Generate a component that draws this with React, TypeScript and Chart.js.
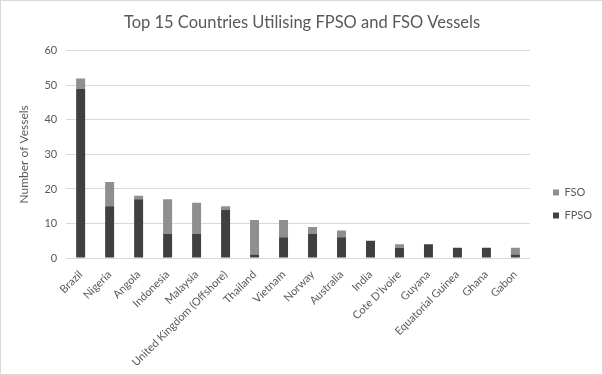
import React, { useEffect, useRef } from "react";
import { Chart, registerables } from "chart.js";

Chart.register(...registerables);

const countries = [
  "Brazil",
  "Nigeria",
  "Angola",
  "Indonesia",
  "Malaysia",
  "United Kingdom (Offshore)",
  "Thailand",
  "Vietnam",
  "Norway",
  "Australia",
  "India",
  "Cote D'Ivoire",
  "Guyana",
  "Equatorial Guinea",
  "Ghana",
  "Gabon",
];
const fpsoValues = [49, 15, 17, 7, 7, 14, 1, 6, 7, 6, 5, 3, 4, 3, 3, 1];
const fsoValues = [3, 7, 1, 10, 9, 1, 10, 5, 2, 2, 0, 1, 0, 0, 0, 2];
const yMin = 0;
const yMax = 60;
const yStep = 10;

const titleText = "Top 15 Countries Utilising FPSO and FSO Vessels";
const yTitle = "Number of Vessels";

const FONT = "Lato, 'Open Sans', sans-serif";
const TEXT = "#595959";

const framePlugin = {
  id: "frame",
  afterLayout(chart: any) {
    const lg = chart.legend;
    if (lg) {
      const pad = lg.options.labels.padding;
      const dx = 553 - (lg.left + pad);
      lg.left += dx;
      lg.right += dx;
      lg.top += 14;
      lg.bottom += 14;
    }
  },
  beforeDraw(chart: any) {
    const ctx = chart.ctx;
    ctx.save();
    ctx.fillStyle = "#ffffff";
    ctx.fillRect(0, 0, chart.width, chart.height);
    ctx.strokeStyle = "#d9d9d9";
    ctx.lineWidth = 1;
    ctx.strokeRect(0.5, 0.5, chart.width - 1, chart.height - 1);
    ctx.restore();
  },
};

export default function App() {
  const ref = useRef<HTMLCanvasElement | null>(null);

  useEffect(() => {
    document.body.style.margin = "0";
    if (!ref.current) return;
    const chart = new Chart(ref.current, {
      type: "bar",
      data: {
        labels: countries,
        datasets: [
          {
            label: "FPSO",
            data: fpsoValues,
            backgroundColor: "#404040",
            barPercentage: 0.31,
            categoryPercentage: 1,
          },
          {
            label: "FSO",
            data: fsoValues,
            backgroundColor: "#8f8f8f",
            barPercentage: 0.31,
            categoryPercentage: 1,
          },
        ],
      },
      options: {
        animation: false,
        responsive: false,
        maintainAspectRatio: false,
        layout: { padding: { left: 13, right: 12, top: 9, bottom: 4 } },
        plugins: {
          title: {
            display: true,
            text: titleText,
            color: TEXT,
            font: { family: FONT, size: 16.5, weight: "normal" },
            padding: { top: 4, bottom: 18 },
          },
          legend: {
            position: "right",
            reverse: true,
            labels: {
              color: TEXT,
              font: { family: FONT, size: 11 },
              boxWidth: 6,
              boxHeight: 6,
              padding: 12,
            },
          },
          tooltip: { enabled: false },
        },
        scales: {
          x: {
            stacked: true,
            grid: { display: false },
            border: { display: true, color: "#d9d9d9" },
            ticks: {
              color: TEXT,
              font: { family: FONT, size: 11 },
              autoSkip: false,
              maxRotation: 45,
              minRotation: 45,
              padding: 2,
            },
          },
          y: {
            stacked: true,
            min: yMin,
            max: yMax,
            grid: { color: "#d9d9d9", drawTicks: false },
            border: { display: false },
            ticks: {
              stepSize: yStep,
              color: TEXT,
              font: { family: FONT, size: 11 },
              padding: 9,
            },
            title: {
              display: true,
              text: yTitle,
              color: TEXT,
              font: { family: FONT, size: 12 },
              padding: 4,
            },
          },
        },
      },
      plugins: [framePlugin],
    });
    return () => chart.destroy();
  }, []);

  return (
    <div style={{ width: 603, height: 375, position: "relative" }}>
      <canvas ref={ref} width={603} height={375} style={{ display: "block" }} />
    </div>
  );
}
